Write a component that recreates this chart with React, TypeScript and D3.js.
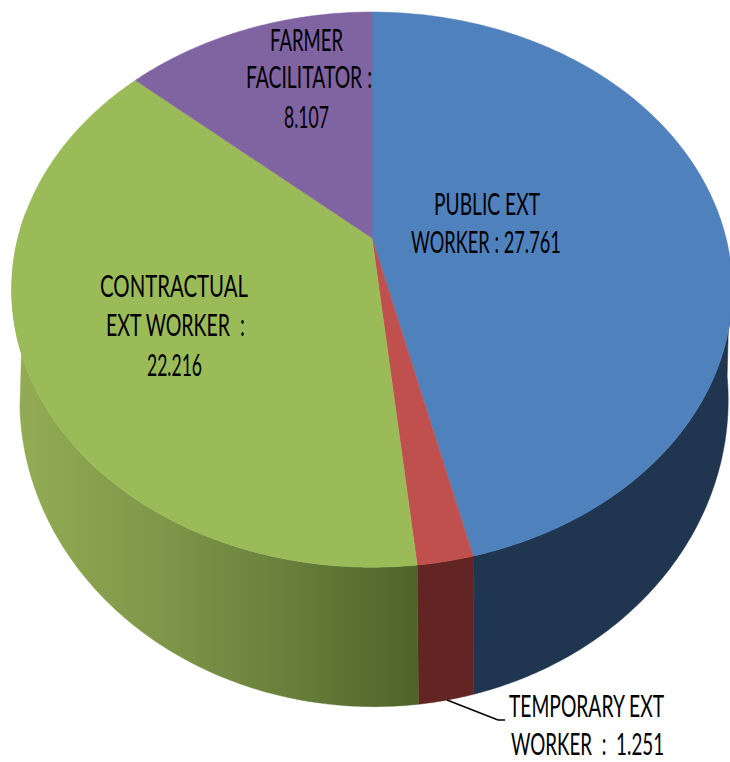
import React, { useEffect, useRef } from "react";
import * as d3 from "d3";

const categories = ["PUBLIC EXT WORKER", "TEMPORARY EXT WORKER", "CONTRACTUAL EXT WORKER", "FARMER FACILITATOR"];
const values = [27.761, 1.251, 22.216, 8.107];
const labelTexts = [
  "FARMER",
  "FACILITATOR :",
  "8.107",
  "PUBLIC EXT",
  "WORKER : 27.761",
  "CONTRACTUAL",
  "EXT WORKER  :",
  "22.216",
  "TEMPORARY EXT",
  "WORKER  :  1.251",
];

const topColors = ["#4F81BD", "#C0504D", "#9BBB59", "#8064A2"];
const wallColors = ["#1F3550", "#632523", "url(#greenWall)", "#4B3A60"];

// Left edge, fitted width and baseline of each label line, in label order.
const labelLayout = [
  { x: 270, w: 73, y: 51 },
  { x: 246, w: 126, y: 88 },
  { x: 284, w: 45, y: 128 },
  { x: 434, w: 106, y: 215 },
  { x: 411, w: 150, y: 253 },
  { x: 100, w: 148, y: 297 },
  { x: 106, w: 139, y: 336 },
  { x: 147, w: 55, y: 376 },
  { x: 509, w: 155, y: 717 },
  { x: 511, w: 153, y: 755 },
];

const W = 730;
const H = 762;
const K = 0.186;
const topRim = { cx: 372, r: 354, s: 268, y0: 238 };
const bottomRim = { cx: 374, r: 348, s: 296, y0: 343 };
const deg = Math.PI / 180;

const warp = (t: number) =>
  t - 2.0 * deg * Math.pow(Math.sin(t / 2), 4) + 0.8 * deg * Math.max(0, -Math.sin(t));

const project = (t: number, p: typeof topRim): [number, number] => {
  const a = warp(t);
  const u = Math.sin(a);
  const v = -Math.cos(a);
  const w = 1 - K * v;
  return [p.cx + (p.r * u) / w, p.y0 + (p.s * v) / w];
};

const samples = (a: number, b: number) => {
  const n = Math.max(2, Math.ceil(Math.abs(b - a) / 0.01));
  return d3.range(n + 1).map((i) => a + ((b - a) * i) / n);
};

const line = d3.line<[number, number]>();
const arcs = d3.pie<number>().sort(null).startAngle(0).endAngle(2 * Math.PI)(values);

const WALL_TOP = [95 * deg, 275 * deg];
const WALL_BOTTOM = [97 * deg, 258 * deg];

export default function App() {
  const textRef = useRef<SVGGElement>(null);

  useEffect(() => {
    const fit = () => {
      d3.select(textRef.current)
        .selectAll<SVGTextElement, unknown>("text")
        .each(function (_, i) {
          const l = labelLayout[i];
          const natural = this.getComputedTextLength();
          d3.select(this).attr("transform", `translate(${l.x},${l.y}) scale(${l.w / natural},1)`);
        });
    };
    fit();
    if (document.fonts && document.fonts.ready) document.fonts.ready.then(fit);
  }, []);

  const walls = arcs
    .map((d, i) => {
      const ta = Math.max(d.startAngle, WALL_TOP[0]);
      const tb = Math.min(d.endAngle, WALL_TOP[1]);
      const ba = Math.max(d.startAngle, WALL_BOTTOM[0]);
      const bb = Math.min(d.endAngle, WALL_BOTTOM[1]);
      if (tb <= ta || bb <= ba) return null;
      const pts = [
        ...samples(ta, tb).map((t) => project(t, topRim)),
        ...samples(ba, bb).reverse().map((t) => project(t, bottomRim)),
      ];
      return { i, d: line(pts) + "Z" };
    })
    .filter(Boolean) as { i: number; d: string }[];

  const faces = arcs.map((d, i) => {
    const pts: [number, number][] = [
      [topRim.cx, topRim.y0],
      ...samples(d.startAngle, d.endAngle).map((t) => project(t, topRim)),
    ];
    return { i, d: line(pts) + "Z" };
  });

  return (
    <svg
      width={W}
      height={H}
      viewBox={`0 0 ${W} ${H}`}
      style={{ position: "fixed", left: 0, top: 0, display: "block", background: "#fff" }}
    >
      <defs>
        <linearGradient id="greenWall" gradientUnits="userSpaceOnUse" x1={16} x2={420} y1={0} y2={0}>
          <stop offset="0" stopColor="#93AC54" />
          <stop offset="0.35" stopColor="#7F9749" />
          <stop offset="0.7" stopColor="#667D3A" />
          <stop offset="1" stopColor="#4F6228" />
        </linearGradient>
      </defs>
      <g>
        {walls.map((w) => (
          <path key={w.i} d={w.d} fill={wallColors[w.i]} stroke={wallColors[w.i]} strokeWidth={0.5}>
            <title>{categories[w.i]}</title>
          </path>
        ))}
      </g>
      <g>
        {faces.map((f) => (
          <path key={f.i} d={f.d} fill={topColors[f.i]} stroke={topColors[f.i]} strokeWidth={0.5}>
            <title>{categories[f.i]}</title>
          </path>
        ))}
      </g>
      <path d="M447,700L498,720L505,720" fill="none" stroke="#000" strokeWidth={1.5} />
      <g ref={textRef} fontFamily="Lato, 'Open Sans', sans-serif" fontSize={31} fill="#000">
        {labelTexts.map((text, i) => (
          <text
            key={text}
            transform={`translate(${labelLayout[i].x},${labelLayout[i].y}) scale(0.7,1)`}
            xmlSpace="preserve"
          >
            {text}
          </text>
        ))}
      </g>
    </svg>
  );
}
